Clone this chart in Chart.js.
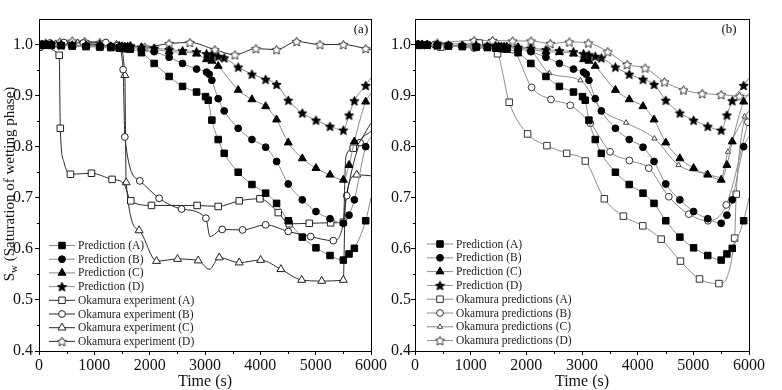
<!DOCTYPE html>
<html>
<head>
<meta charset="utf-8">
<script src="https://cdn.jsdelivr.net/npm/chart.js@4.4.0/dist/chart.umd.min.js"></script>
<style>
  html, body { margin: 0; padding: 0; background: #fff; }
  #wrap { position: relative; width: 782px; height: 390px; }
  .pane { position: absolute; top: 0; width: 391px; height: 390px; }
</style>
</head>
<body>
<div id="wrap">
  <div class="pane" style="left:0"><canvas id="chartA" width="391" height="390"></canvas></div>
  <div class="pane" style="left:391px"><canvas id="chartB" width="391" height="390"></canvas></div>
</div>
<script>
// axes
const xTicks = [0, 1000, 2000, 3000, 4000, 5000, 6000];
const yTicks = [0.4, 0.5, 0.6, 0.7, 0.8, 0.9, 1.0];

// legend labels
const predLabels = ['Prediction (A)', 'Prediction (B)', 'Prediction (C)', 'Prediction (D)'];
const expLabels = ['Okamura experiment (A)', 'Okamura experiment (B)', 'Okamura experiment (C)', 'Okamura experiment (D)'];
const okaLabels = ['Okamura predictions (A)', 'Okamura predictions (B)', 'Okamura predictions (C)', 'Okamura predictions (D)'];

// [time (s), Sw] ; a third value 0 = point on the curve without a marker
const predA = [[0,1.0],[60,1.0],[130,0.999],[220,0.999],[400,0.998],[600,0.997],[850,0.996],[1100,0.995],[1300,0.994],[1450,0.993],[1500,0.993],[1550,0.992],[1600,0.992],[1650,0.991],
  [1852,0.984],[2081,0.963],[2352,0.9375],[2594,0.918],[2847,0.907],[3010,0.898],[3058,0.891],[3124,0.852],[3238,0.814],[3347,0.787],[3600,0.750],[3848,0.726],[4096,0.709],[4294,0.689],[4505,0.655],[4758,0.623],[5005,0.602],[5259,0.587],[5500,0.578],[5603,0.590],[5699,0.601],[5904,0.655],[6000,0.70,0]];
const predB = [[0,1.0],[60,1.0],[130,1.0],[220,0.999],[400,0.999],[600,0.998],[850,0.997],[1100,0.996],[1300,0.996],[1450,0.995],[1500,0.995],[1550,0.994],[1600,0.994],[1650,0.994],
  [1852,0.991],[2081,0.986],[2352,0.975],[2594,0.963],[2847,0.952],[3028,0.946],[3075,0.942],[3124,0.930],[3238,0.894],[3347,0.870],[3600,0.836],[3848,0.814],[4096,0.799],[4294,0.771],[4505,0.727],[4758,0.696],[5005,0.673],[5259,0.659],[5500,0.650],[5603,0.666],[5699,0.696],[5904,0.800],[6000,0.82,0]];
const predC = [[0,1.0],[60,1.0],[130,1.0],[220,1.0],[400,0.999],[600,0.998],[850,0.998],[1100,0.997],[1300,0.996],[1450,0.996],[1500,0.996],[1550,0.995],[1600,0.995],[1650,0.995],
  [1852,0.994],[2081,0.991],[2352,0.986],[2594,0.985],[2847,0.982],[3028,0.971],[3124,0.968],[3238,0.958],[3600,0.911],[3848,0.8925],[4096,0.879],[4294,0.853],[4505,0.808],[4758,0.777],[5005,0.758],[5259,0.745],[5500,0.735],[5603,0.764],[5699,0.810],[5904,0.888],[6000,0.905,0]];
const predD = [[0,1.0],[60,1.0],[130,1.0],[220,1.0],[400,0.999],[600,0.999],[850,0.998],[1100,0.998],[1300,0.997],[1450,0.997],[1500,0.997],[1550,0.996],[1600,0.996],[1650,0.996],
  [1852,0.995],[2081,0.993],[2352,0.990],[2594,0.988],[2847,0.986],[3028,0.982],[3124,0.980],[3238,0.977],[3347,0.974],[3600,0.956],[3848,0.942],[4096,0.932],[4294,0.922],[4505,0.891],[4758,0.866],[5005,0.852],[5259,0.840],[5500,0.8325],[5603,0.862],[5699,0.890],[5904,0.920],[6000,0.935,0]];

// panel (a): Okamura experiment
const expA = [[0,0.995],[365,0.979],[385,0.836],[450,0.77,0],[568,0.746],[948,0.748],[1321,0.736],[1530,0.728,0],[1659,0.694],[2033,0.685],[2858,0.685],[3238,0.683],[3618,0.694],[3993,0.698],[4324,0.671],[4523,0.649],[4885,0.650],[5271,0.651],[5500,0.652],[5545,0.78,0],[5680,0.797],[6000,0.846,0]];
const expB = [[0,1.0],[200,1.003],[450,1.004],[800,1.003],[1208,1.004],[1420,0.998],[1520,0.951],[1551,0.819],[1822,0.733],[2171,0.699],[2576,0.678],[3016,0.660],[3090,0.624,0],[3311,0.638],[3679,0.637],[4096,0.647],[4505,0.634],[4910,0.624],[5319,0.616],[5480,0.64,0],[5561,0.704],[5802,0.808],[6000,0.83,0]];
const expC = [[0,0.998],[300,1.0],[700,1.002],[1100,1.0],[1450,0.997],[1551,0.940],[1575,0.730],[1809,0.636],[2124,0.576],[2503,0.580],[2877,0.577],[3080,0.560,0],[3257,0.583],[3618,0.573],[4005,0.578],[4372,0.560],[4747,0.539],[5109,0.537],[5500,0.539],[5535,0.69,0],[5742,0.745],[6000,0.743,0]];
const expD = [[0,1.0],[120,1.003],[374,1.005],[600,1.007],[827,1.006],[1100,1.004],[1400,1.0],[1650,0.998],[1912,0.995],[2352,1.002],[2726,1.004],[3178,0.990],[3540,0.980],[3920,0.992],[4294,0.990],[4656,1.006],[5078,1.0],[5500,1.0],[5904,0.992],[6000,0.99,0]];

// panel (b): Okamura predictions
const okaA = [[0,1.0],[462,0.995],[1152,1.003],[1483,0.982],[1692,0.887],[2023,0.825],[2370,0.802],[2725,0.787],[3060,0.772],[3401,0.698],[3743,0.664],[4092,0.645],[4422,0.619],[4769,0.576],[5111,0.541],[5460,0.532],[5741,0.621],[5771,0.707],[5900,0.845,0],[6000,0.87,0]];
const okaB = [[0,1.0],[350,1.0],[1062,0.993],[1500,0.994],[1750,0.99],[2095,0.916],[2442,0.8925],[2790,0.881],[3150,0.846],[3504,0.790],[3851,0.773],[4200,0.758],[4560,0.702],[4920,0.668],[5262,0.655],[5591,0.686],[5982,0.848]];
const okaC = [[0,1.0],[400,1.002],[1100,1.0],[1700,0.996],[2100,0.985],[2412,0.944],[2970,0.930],[3354,0.872],[3792,0.847],[4301,0.816],[4733,0.764],[5231,0.747],[5500,0.74,0],[5622,0.790],[5921,0.859],[6000,0.87,0]];
const okaD = [[0,1.0],[400,1.003],[1062,1.008],[1393,1.008],[1753,1.007],[2084,1.007],[2430,1.002],[2772,1.005],[3114,1.003],[3463,0.986],[3810,0.961],[4134,0.954],[4481,0.927],[4823,0.911],[5159,0.904],[5501,0.902],[5831,0.899],[6000,0.90,0]];

const serif = "'Liberation Serif', 'Times New Roman', serif";

function makeStar(fill, stroke, size, inner) {
  const c = document.createElement('canvas');
  c.width = size; c.height = size;
  const g = c.getContext('2d');
  const cx = size / 2, cy = size / 2 + 0.5, ro = size / 2 - 0.7, ri = ro * inner;
  g.beginPath();
  for (let i = 0; i < 10; i++) {
    const r = i % 2 ? ri : ro;
    const a = -Math.PI / 2 + i * Math.PI / 5;
    g.lineTo(cx + r * Math.cos(a), cy + r * Math.sin(a));
  }
  g.closePath();
  g.fillStyle = fill; g.fill();
  g.strokeStyle = stroke; g.lineWidth = 1; g.stroke();
  return c;
}

const solidStar = makeStar('#000', '#000', 11, 0.45);
const openStar = makeStar('#fff', '#333', 11, 0.5);

const predLine = '#8a8a8a';
const expLine = '#2a2a2a';

function serie(label, pts, shape, r, fill, stroke, line) {
  return {
    label: label,
    data: pts.map(p => ({ x: p[0], y: p[1], m: p[2] !== 0 })),
    borderColor: line,
    borderWidth: 1,
    pointStyle: shape,
    pointRadius: ctx => (ctx.raw && ctx.raw.m ? r : 0),
    pointBackgroundColor: fill,
    pointBorderColor: stroke,
    pointBorderWidth: 1,
    cubicInterpolationMode: 'monotone',
    fill: false,
    legendRadius: r
  };
}

function predictions() {
  return [
    serie(predLabels[0], predA, 'rect', 4.6, '#000', '#000', predLine),
    serie(predLabels[1], predB, 'circle', 3.4, '#000', '#000', predLine),
    serie(predLabels[2], predC, 'triangle', 4.6, '#000', '#000', predLine),
    serie(predLabels[3], predD, solidStar, 4.5, '#000', '#000', predLine)
  ];
}

const setsA = predictions().concat([
  serie(expLabels[0], expA, 'rect', 4.6, '#fff', '#222', expLine),
  serie(expLabels[1], expB, 'circle', 3.4, '#fff', '#222', expLine),
  serie(expLabels[2], expC, 'triangle', 4.6, '#fff', '#222', expLine),
  serie(expLabels[3], expD, openStar, 4.5, '#fff', '#222', expLine)
]);

const setsB = predictions().concat([
  serie(okaLabels[0], okaA, 'rect', 4.6, '#fff', '#333', predLine),
  serie(okaLabels[1], okaB, 'circle', 3.4, '#fff', '#333', predLine),
  serie(okaLabels[2], okaC, 'triangle', 3.0, '#fff', '#444', predLine),
  serie(okaLabels[3], okaD, openStar, 4.5, '#fff', '#333', predLine)
]);

// frame, minor ticks, panel tag, legend, y title
const decor = {
  id: 'decor',
  afterDraw(chart, args, o) {
    const { ctx, chartArea: a, scales: { x, y } } = chart;
    ctx.save();
    ctx.strokeStyle = '#000';
    ctx.lineWidth = 1;
    const L = Math.round(a.left) + 0.5, R = Math.round(a.right) + 0.5;
    const T = Math.round(a.top) + 0.5, B = Math.round(a.bottom) + 0.5;
    ctx.strokeRect(L, T, R - L, B - T);
    ctx.beginPath();
    for (let i = 0; i < xTicks.length - 1; i++) {
      const px = Math.round(x.getPixelForValue((xTicks[i] + xTicks[i + 1]) / 2)) + 0.5;
      ctx.moveTo(px, B); ctx.lineTo(px, B + 2.5);
    }
    for (let i = 0; i < yTicks.length - 1; i++) {
      const py = Math.round(y.getPixelForValue((yTicks[i] + yTicks[i + 1]) / 2)) + 0.5;
      ctx.moveTo(L, py); ctx.lineTo(L - 2.5, py);
    }
    ctx.stroke();

    // panel tag
    ctx.fillStyle = '#111';
    ctx.font = '13px ' + serif;
    ctx.textAlign = 'center';
    ctx.textBaseline = 'middle';
    ctx.fillText(o.tag, o.tagX, 30);

    // legend
    ctx.font = '11.5px ' + serif;
    ctx.textAlign = 'left';
    chart.data.datasets.forEach((ds, i) => {
      const ry = o.legY + i * o.legGap;
      ctx.strokeStyle = ds.borderColor;
      ctx.lineWidth = 1;
      ctx.beginPath();
      ctx.moveTo(o.legX, ry + 0.5);
      ctx.lineTo(o.legX + 26, ry + 0.5);
      ctx.stroke();
      ctx.fillStyle = ds.pointBackgroundColor;
      ctx.strokeStyle = ds.pointBorderColor;
      Chart.helpers.drawPoint(ctx, { pointStyle: ds.pointStyle, radius: ds.legendRadius, rotation: 0, borderWidth: 1 }, o.legX + 13, ry + 0.5);
      ctx.fillStyle = '#1a1a1a';
      ctx.fillText(ds.label, o.legX + 29, ry + 1);
    });

    // rotated y title with subscript
    if (o.yTitle) {
      ctx.save();
      ctx.translate(10, 184);
      ctx.rotate(-Math.PI / 2);
      ctx.fillStyle = '#111';
      ctx.textBaseline = 'middle';
      ctx.textAlign = 'left';
      const big = '15px ' + serif, small = '11px ' + serif;
      const rest = ' (Saturation of wetting phase)';
      ctx.font = big;
      const wS = ctx.measureText('S').width, wR = ctx.measureText(rest).width;
      ctx.font = small;
      const wW = ctx.measureText('w').width;
      let cx = -(wS + wW + wR) / 2;
      ctx.font = big; ctx.fillText('S', cx, 0); cx += wS;
      ctx.font = small; ctx.fillText('w', cx, 4); cx += wW;
      ctx.font = big; ctx.fillText(rest, cx, 0);
      ctx.restore();
    }
    ctx.restore();
  }
};

function buildChart(id, sets, yWidth, padRight, labPad, decorOpts) {
  return new Chart(document.getElementById(id), {
    type: 'line',
    data: { datasets: sets },
    plugins: [decor],
    options: {
      responsive: false,
      animation: false,
      layout: { padding: { left: 0, right: padRight, top: 19, bottom: 0 } },
      plugins: {
        legend: { display: false },
        tooltip: { enabled: false },
        decor: decorOpts
      },
      scales: {
        x: {
          type: 'linear', min: 0, max: 6000,
          afterBuildTicks: s => { s.ticks = xTicks.map(v => ({ value: v })); },
          afterFit: s => { s.height = 39; },
          border: { display: false },
          grid: { drawOnChartArea: false, drawTicks: true, tickLength: 4, color: '#000' },
          ticks: { color: '#111', font: { family: serif, size: 16 }, padding: 1, maxRotation: 0, autoSkip: false, callback: v => String(v) },
          title: { display: true, text: 'Time (s)', color: '#111', font: { family: serif, size: 16, lineHeight: 1 }, padding: { top: 0, bottom: 0 } }
        },
        y: {
          type: 'linear', min: 0.4, max: 1.05,
          afterBuildTicks: s => { s.ticks = yTicks.map(v => ({ value: v })); },
          afterFit: s => { s.width = yWidth; },
          border: { display: false },
          grid: { drawOnChartArea: false, drawTicks: true, tickLength: 4, color: '#000' },
          ticks: { color: '#111', font: { family: serif, size: 16 }, padding: labPad, callback: v => v.toFixed(1) }
        }
      }
    }
  });
}

buildChart('chartA', setsA, 39, 20, 2, { tag: '(a)', tagX: 361, legX: 49, legY: 245, legGap: 13.7, yTitle: true });
buildChart('chartB', setsB, 24, 33, 0, { tag: '(b)', tagX: 338, legX: 36, legY: 243.5, legGap: 13.8, yTitle: false });
</script>
</body>
</html>
